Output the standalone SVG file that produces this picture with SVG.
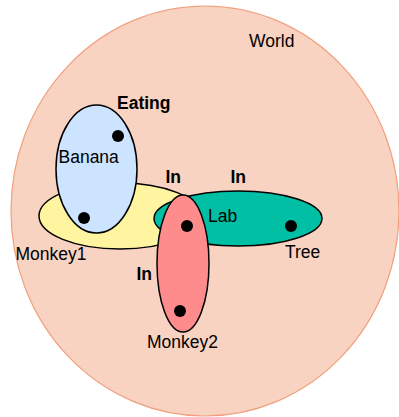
<svg xmlns="http://www.w3.org/2000/svg" width="399" height="417" viewBox="0 0 399 417">
<style>
.s{stroke:#000;stroke-width:1.5}
.t{font-family:"Liberation Sans",Arial,sans-serif;font-size:17.5px;fill:#000}
.b{font-weight:bold}
.d{fill:#000}
</style>
<rect width="399" height="417" fill="#fff"/>
<g id="world">
<ellipse cx="205" cy="211" rx="194" ry="205" fill="#F9D3C1" stroke="#F0A07E" stroke-width="1.2"/>
<text class="t" x="249" y="47">World</text>
</g>
<g id="monkey1">
<ellipse class="s" cx="120" cy="216" rx="81" ry="33" fill="#FFF5A0"/>
<text class="t" x="15.5" y="260">Monkey1</text>
</g>
<g id="banana">
<ellipse class="s" cx="96.5" cy="169" rx="40.5" ry="64" fill="#CCE4FF"/>
<text class="t" x="58.5" y="163">Banana</text>
</g>
<g id="lab">
<ellipse class="s" cx="238" cy="218.5" rx="84" ry="27.5" fill="#00BFA5"/>
<text class="t" x="208" y="222">Lab</text>
</g>
<g id="monkey2">
<ellipse class="s" cx="183" cy="263.5" rx="26" ry="68.5" fill="#FF8C8C"/>
<text class="t" x="147" y="347.5">Monkey2</text>
</g>
<g id="tree">
<text class="t" x="285" y="258">Tree</text>
</g>
<g id="connectors">
<circle class="d" cx="118" cy="136" r="6"/>
<circle class="d" cx="84" cy="218" r="6"/>
<circle class="d" cx="187" cy="226" r="6"/>
<circle class="d" cx="291" cy="226" r="6"/>
<circle class="d" cx="180" cy="311" r="6"/>
<text class="t b" x="117" y="109">Eating</text>
<text class="t b" x="165.5" y="183">In</text>
<text class="t b" x="230.5" y="183">In</text>
<text class="t b" x="136.5" y="279.5">In</text>
</g>
</svg>
